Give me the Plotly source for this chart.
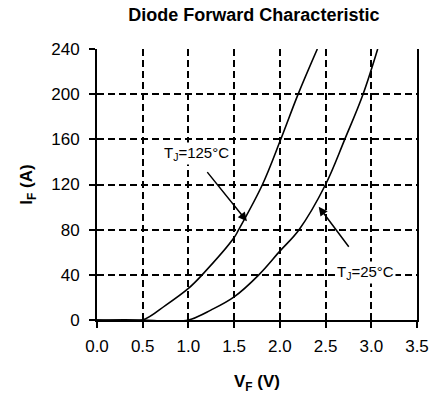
import plotly.graph_objects as go

# Data
vf_125 = [0.0, 0.25, 0.5, 0.75, 1.0, 1.15, 1.5, 1.55, 1.81, 2.01, 2.2, 2.41]
if_125 = [0.0, -1.0, 0.0, 13.0, 28.0, 40.0, 73.0, 80.0, 120.0, 160.0, 200.0, 240.0]

vf_25 = [0.0, 0.5, 0.75, 1.0, 1.25, 1.5, 1.77, 2.0, 2.21, 2.5, 2.71, 2.91, 3.07]
if_25 = [0.0, 0.0, -1.0, 0.0, 9.0, 20.5, 40.0, 61.0, 80.0, 120.0, 160.0, 200.0, 240.0]

x_ticks = [0.0, 0.5, 1.0, 1.5, 2.0, 2.5, 3.0, 3.5]
x_tick_labels = ["0.0", "0.5", "1.0", "1.5", "2.0", "2.5", "3.0", "3.5"]
y_ticks = [0, 40, 80, 120, 160, 200, 240]
y_tick_labels = ["0", "40", "80", "120", "160", "200", "240"]

FONT = "Liberation Sans, Arial, sans-serif"

fig = go.Figure()
fig.add_trace(go.Scatter(x=vf_125, y=if_125, mode="lines", name="TJ=125°C",
                         line=dict(color="black", width=1.6, shape="spline", smoothing=1.0)))
fig.add_trace(go.Scatter(x=vf_25, y=if_25, mode="lines", name="TJ=25°C",
                         line=dict(color="black", width=1.6, shape="spline", smoothing=1.0)))

# Arrows (data coordinates)
fig.add_annotation(x=1.64, y=87.4, ax=1.193, ay=132.3, axref="x", ayref="y",
                   xref="x", yref="y", text="", showarrow=True,
                   arrowhead=2, arrowsize=1.2, arrowwidth=1.5, arrowcolor="black")
fig.add_annotation(x=2.425, y=100.4, ax=2.766, ay=63.5, axref="x", ayref="y",
                   xref="x", yref="y", text="", showarrow=True,
                   arrowhead=2, arrowsize=1.2, arrowwidth=1.5, arrowcolor="black")
# Labels
fig.add_annotation(x=1.083, y=147.3, xref="x", yref="y", showarrow=False,
                   text="T<sub>J</sub>=125°C", bgcolor="white",
                   font=dict(family=FONT, size=15, color="black"))
fig.add_annotation(x=2.94, y=42.0, xref="x", yref="y", showarrow=False,
                   text="T<sub>J</sub>=25°C", bgcolor="white",
                   font=dict(family=FONT, size=15, color="black"))

fig.update_layout(
    width=434, height=397,
    margin=dict(l=97, r=17, t=49, b=77),
    paper_bgcolor="white", plot_bgcolor="white",
    showlegend=False,
    font=dict(family=FONT, color="black"),
    title=dict(text="<b>Diode Forward Characteristic</b>", xref="container", x=0.585,
               xanchor="center", yref="container", y=0.962, yanchor="middle",
               font=dict(family=FONT, size=18, color="black")),
    xaxis=dict(range=[0, 3.5], tickvals=x_ticks, ticktext=x_tick_labels,
               automargin=False,
               showline=True, linecolor="black", linewidth=2,
               ticks="outside", ticklen=6, tickwidth=1.5, tickcolor="black",
               ticklabelstandoff=4,
               showgrid=True, gridcolor="black", gridwidth=1.5, griddash="7px,4px",
               zeroline=False, tickfont=dict(family=FONT, size=17, color="black"),
               title=dict(text="<b>V<sub>F</sub> (V)</b>", standoff=20,
                          font=dict(family=FONT, size=17, color="black"))),
    yaxis=dict(range=[0, 240], tickvals=y_ticks, ticktext=y_tick_labels,
               automargin=False,
               showline=True, linecolor="black", linewidth=2, mirror=True,
               ticks="outside", ticklen=6, tickwidth=1.5, tickcolor="black",
               ticklabelstandoff=6,
               showgrid=True, gridcolor="black", gridwidth=1.5, griddash="7px,4px",
               zeroline=False, tickfont=dict(family=FONT, size=17, color="black"),
               title=dict(text="<b>I<sub>F</sub> (A)</b>", standoff=14,
                          font=dict(family=FONT, size=17, color="black"))),
)

fig.write_html("out.html")
